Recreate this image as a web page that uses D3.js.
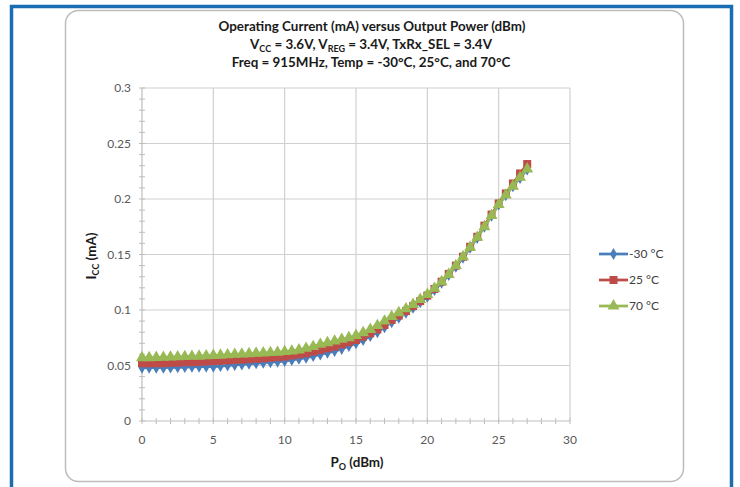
<!DOCTYPE html>
<html>
<head>
<meta charset="utf-8">
<script src="https://cdn.jsdelivr.net/npm/d3@7"></script>
<style>
	body { margin: 0; background: #fff; }
	svg { display: block; font-family: Lato, "Open Sans", sans-serif; }
</style>
</head>
<body>
<div id="plot"></div>
<script>
//Data
const powerDbm = [0,0.5,1,1.5,2,2.5,3,3.5,4,4.5,5,5.5,6,6.5,7,7.5,8,8.5,9,9.5,10,10.5,11,11.5,12,12.5,13,13.5,14,14.5,15,15.5,16,16.5,17,17.5,18,18.5,19,19.5,20,20.5,21,21.5,22,22.5,23,23.5,24,24.5,25,25.5,26,26.5,27];
const iccMinus30 = [0.048,0.048,0.048,0.048,0.0482,0.0484,0.0486,0.0488,0.049,0.049,0.049,0.0495,0.050,0.0505,0.051,0.0515,0.052,0.0525,0.053,0.0535,0.054,0.055,0.056,0.057,0.0585,0.060,0.0615,0.063,0.065,0.0675,0.070,0.073,0.0765,0.080,0.0845,0.089,0.093,0.0975,0.102,0.107,0.112,0.118,0.1245,0.1315,0.139,0.147,0.156,0.165,0.175,0.185,0.195,0.2035,0.2115,0.219,0.2265];
const icc25 = [0.052,0.052,0.052,0.052,0.0525,0.0525,0.053,0.053,0.0533,0.0536,0.054,0.0543,0.0546,0.055,0.0553,0.0557,0.056,0.0565,0.057,0.0575,0.058,0.059,0.060,0.061,0.0625,0.064,0.0655,0.067,0.069,0.071,0.073,0.076,0.079,0.0825,0.0865,0.091,0.095,0.099,0.1035,0.108,0.113,0.119,0.1255,0.1325,0.140,0.148,0.157,0.166,0.176,0.186,0.196,0.205,0.214,0.223,0.2315];
const icc70 = [0.057,0.057,0.0572,0.0574,0.0576,0.0578,0.058,0.0582,0.0584,0.0587,0.059,0.0593,0.0596,0.060,0.0603,0.0606,0.061,0.0613,0.0616,0.0619,0.0625,0.063,0.064,0.0655,0.067,0.069,0.0705,0.072,0.0735,0.075,0.077,0.0795,0.0825,0.086,0.090,0.094,0.0975,0.101,0.105,0.1095,0.114,0.1195,0.1255,0.132,0.140,0.148,0.1565,0.1655,0.175,0.185,0.195,0.2035,0.2115,0.2195,0.227];
const seriesNames = ['-30 °C', '25 °C', '70 °C'];
const xTicks = [0,5,10,15,20,25,30];
const yTicks = [0,0.05,0.1,0.15,0.2,0.25,0.3];

const W = 740, H = 487;
const svg = d3.select('#plot').append('svg').attr('width', W).attr('height', H);

//Outer blue frame and rounded card
svg.append('path')
	.attr('d', `M11.5,${H} V6.5 H731.5 V${H}`)
	.style('fill','none').style('stroke','#1a6db3').style('stroke-width',3.5);
svg.append('rect')
	.attr('x',65.5).attr('y',10.5).attr('width',618).attr('height',471).attr('rx',13)
	.style('fill','#fff').style('stroke','#bcbcbc').style('stroke-width',1.5);

//Scales
const x = d3.scaleLinear().domain([0,30]).range([142,570]);
const y = d3.scaleLinear().domain([0,0.3]).range([421,88]);

//Grid
const grid = svg.append('g');
grid.selectAll('.gx').data(xTicks.slice(1)).enter().append('line')
	.attr('x1', d => x(d)).attr('x2', d => x(d)).attr('y1', y(0)).attr('y2', y(0.3))
	.style('stroke','#d0d0d0').style('stroke-width',1.2);
grid.selectAll('.gy').data(yTicks.slice(1)).enter().append('line')
	.attr('x1', x(0)).attr('x2', x(30)).attr('y1', d => y(d)).attr('y2', d => y(d))
	.style('stroke','#d0d0d0').style('stroke-width',1.2);

//Axis lines and minor ticks
const axisColor = '#bdbdbd';
svg.append('line').attr('x1',x(0)).attr('x2',x(30)).attr('y1',y(0)).attr('y2',y(0))
	.style('stroke',axisColor).style('stroke-width',1.2);
svg.append('line').attr('x1',x(0)).attr('x2',x(0)).attr('y1',y(0)).attr('y2',y(0.3))
	.style('stroke',axisColor).style('stroke-width',1.2);
svg.selectAll('.mx').data(d3.range(0,31,1)).enter().append('line')
	.attr('x1', d => x(d)).attr('x2', d => x(d)).attr('y1', y(0)-3).attr('y2', y(0)+3)
	.style('stroke',axisColor);
svg.selectAll('.my').data(d3.range(0,31,1).map(d => d/100)).enter().append('line')
	.attr('x1', x(0)-3).attr('x2', x(0)+3).attr('y1', d => y(d)).attr('y2', d => y(d))
	.style('stroke',axisColor);

//Tick labels
svg.selectAll('.tx').data(xTicks).enter().append('text')
	.attr('x', d => x(d)).attr('y', y(0)+23)
	.attr('text-anchor','middle').style('font-size','12px').style('fill','#595959')
	.text(d => d);
svg.selectAll('.ty').data(yTicks).enter().append('text')
	.attr('x', x(0)-11).attr('y', d => y(d)+4)
	.attr('text-anchor','end').style('font-size','12px').style('fill','#595959')
	.text(d => d === 0 ? '0' : String(+d.toFixed(2)));

//Titles
const title = svg.append('text').attr('text-anchor','middle')
	.style('font-size','13.4px').style('font-weight','bold').style('fill','#1a1a1a');
title.append('tspan').attr('x',372).attr('y',31).text('Operating Current (mA) versus Output Power (dBm)');
const t2 = title.append('tspan').attr('x',371).attr('y',49);
t2.append('tspan').text('V');
t2.append('tspan').attr('dy',3).style('font-size','9px').text('CC');
t2.append('tspan').attr('dy',-3).text(' = 3.6V, V');
t2.append('tspan').attr('dy',3).style('font-size','9px').text('REG');
t2.append('tspan').attr('dy',-3).text(' = 3.4V, TxRx_SEL = 3.4V');
title.append('tspan').attr('x',371).attr('y',67).text('Freq = 915MHz, Temp = -30°C, 25°C, and 70°C');

const yLab = svg.append('text').attr('transform','translate(96,256) rotate(-90)')
	.attr('text-anchor','middle').style('font-size','13.4px').style('font-weight','bold').style('fill','#1a1a1a');
yLab.append('tspan').text('I');
yLab.append('tspan').attr('dy',3).style('font-size','9px').text('CC');
yLab.append('tspan').attr('dy',-3).text(' (mA)');

const xLab = svg.append('text').attr('x',357).attr('y',467)
	.attr('text-anchor','middle').style('font-size','13.4px').style('font-weight','bold').style('fill','#1a1a1a');
xLab.append('tspan').text('P');
xLab.append('tspan').attr('dy',3).style('font-size','9px').text('O');
xLab.append('tspan').attr('dy',-3).text(' (dBm)');

//Series
const series = [
	{name: seriesNames[0], values: iccMinus30, color: '#4a7ebb', symbol: d3.symbol(d3.symbolDiamond, 42)},
	{name: seriesNames[1], values: icc25, color: '#be4b48', symbol: d3.symbol(d3.symbolSquare, 64)},
	{name: seriesNames[2], values: icc70, color: '#98b954', symbol: d3.symbol(d3.symbolTriangle, 62)}
];
const line = d3.line().x(d => x(d[0])).y(d => y(d[1]));

series.forEach(s => {
	const pts = powerDbm.map((p,i) => [p, s.values[i]]);
	const g = svg.append('g');
	g.append('path').datum(pts).attr('d', line)
		.style('fill','none').style('stroke',s.color).style('stroke-width',2.75);
	g.selectAll('path.m').data(pts).enter().append('path').attr('class','m')
		.attr('d', s.symbol)
		.attr('transform', d => `translate(${x(d[0])},${y(d[1])})`)
		.style('fill',s.color);
});

//Legend
series.forEach((s,i) => {
	const ly = 254 + i*26;
	svg.append('line').attr('x1',599).attr('x2',628).attr('y1',ly).attr('y2',ly)
		.style('stroke',s.color).style('stroke-width',2.75);
	svg.append('path').attr('d', s.symbol).attr('transform',`translate(613.5,${ly})`).style('fill',s.color);
	svg.append('text').attr('x',629).attr('y',ly+4).style('font-size','12px').style('fill','#404040')
		.text(s.name);
});
</script>
</body>
</html>
